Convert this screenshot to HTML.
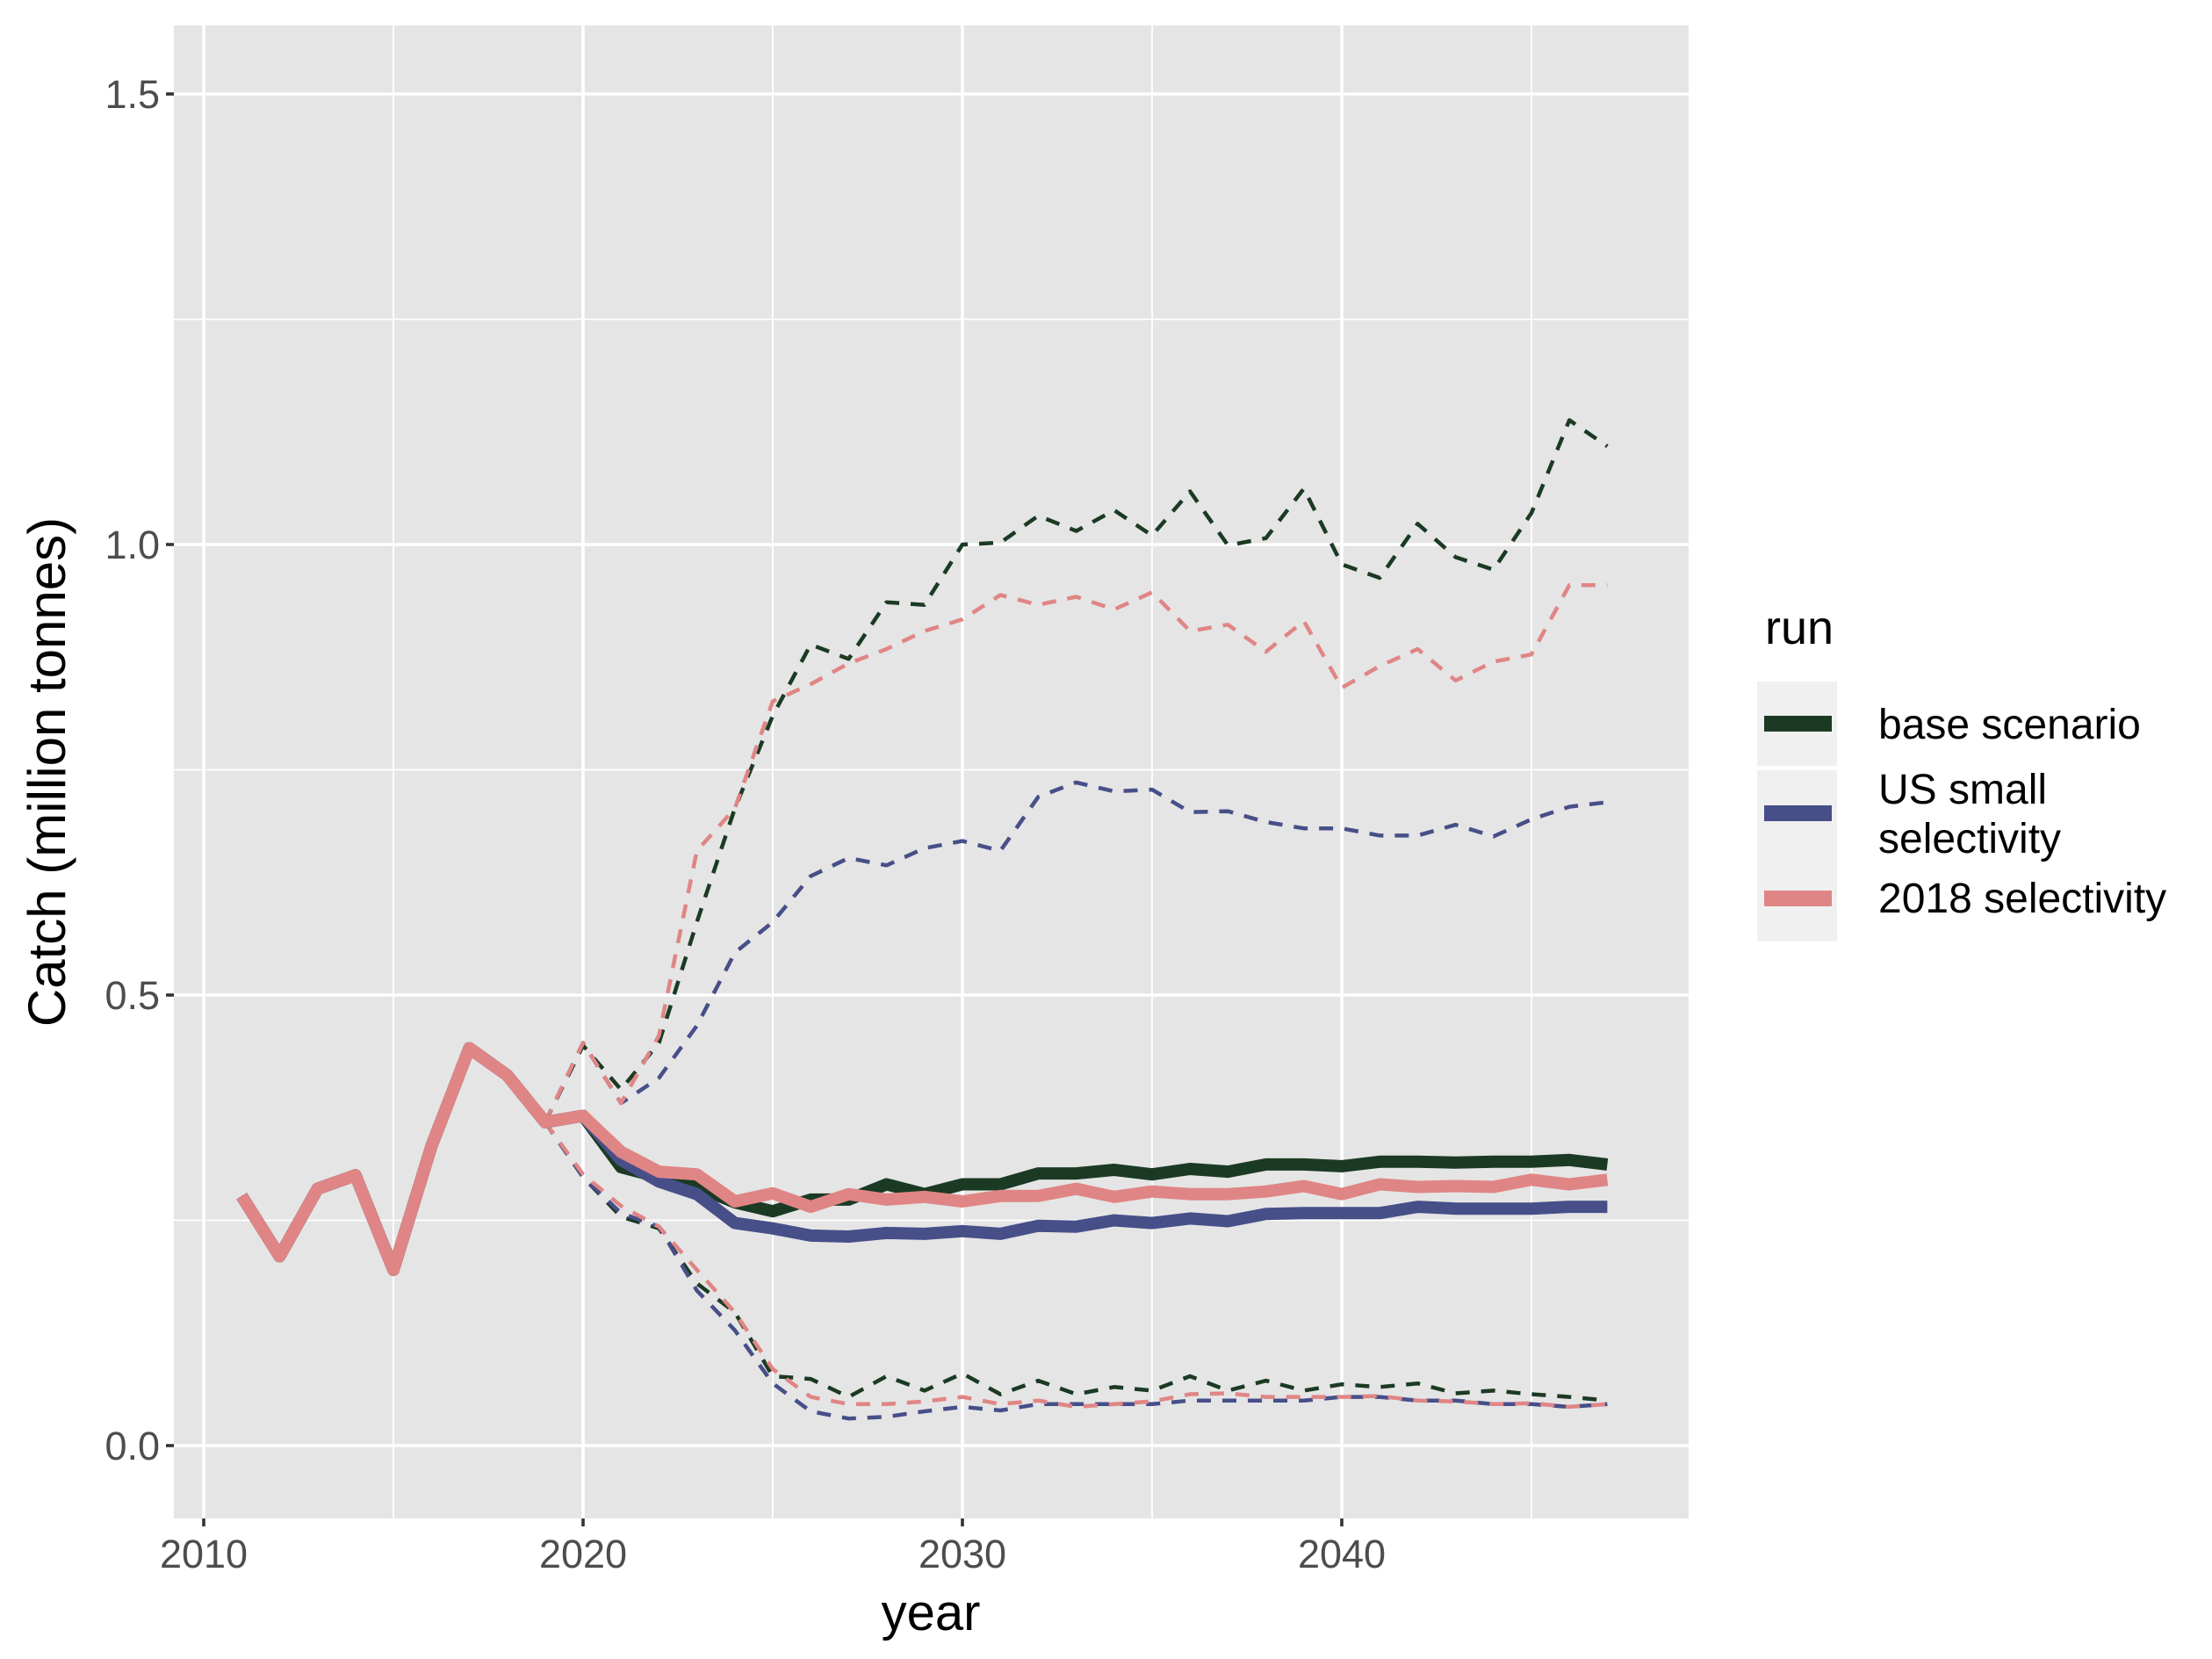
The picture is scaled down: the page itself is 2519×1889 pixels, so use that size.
<!DOCTYPE html>
<html><head><meta charset="utf-8"><style>
html,body{margin:0;padding:0;background:#fff;}
svg{display:block;font-family:"Liberation Sans",Arial,sans-serif;}
</style></head><body>
<svg id="chart" width="2519" height="1889" viewBox="0 0 2519 1889">
<rect x="198" y="29" width="1725" height="1700" fill="#e5e5e5"/>
<g id="grid"></g>
<g id="series"></g>
<g id="axes"></g>
<text x="1060" y="1856" font-size="58" text-anchor="middle" fill="#000">year</text>
<text transform="translate(74,879) rotate(-90)" font-size="60" text-anchor="middle" fill="#000">Catch (million tonnes)</text>
<g>
<text x="2010" y="733" font-size="54" fill="#000">run</text>
<rect x="2001" y="776" width="91" height="96" fill="#f0f0f0"/>
<line x1="2009" y1="824" x2="2086" y2="824" stroke="#1b3a23" stroke-width="18"/>
<text x="2139" y="841" font-size="48" fill="#000">base scenario</text>
<rect x="2001" y="877" width="91" height="99" fill="#f0f0f0"/>
<line x1="2009" y1="926" x2="2086" y2="926" stroke="#474f89" stroke-width="18"/>
<text x="2139" y="915" font-size="48" fill="#000">US small</text>
<text x="2139" y="971" font-size="48" fill="#000">selectivity</text>
<rect x="2001" y="975" width="91" height="97" fill="#f0f0f0"/>
<line x1="2009" y1="1023" x2="2086" y2="1023" stroke="#e08585" stroke-width="18"/>
<text x="2139" y="1039" font-size="48" fill="#000">2018 selectivity</text>
</g>
</svg>
<script>
const NS="http://www.w3.org/2000/svg";
const histYears=[2011,2012,2013,2014,2015,2016,2017,2018,2019,2020];
const histCatch=[0.277,0.21,0.285,0.30,0.195,0.332,0.441,0.411,0.359,0.366];
const projYears=[2021,2022,2023,2024,2025,2026,2027,2028,2029,2030,2031,2032,2033,2034,2035,2036,2037,2038,2039,2040,2041,2042,2043,2044,2045,2046,2047];
const baseMed=[0.309,0.298,0.287,0.27,0.26,0.273,0.273,0.29,0.279,0.29,0.29,0.302,0.302,0.306,0.301,0.307,0.304,0.312,0.312,0.31,0.315,0.315,0.314,0.315,0.315,0.317,0.312];
const usMed=[0.317,0.293,0.279,0.247,0.241,0.233,0.232,0.236,0.235,0.238,0.235,0.244,0.243,0.25,0.247,0.252,0.249,0.257,0.258,0.258,0.258,0.265,0.263,0.263,0.263,0.265,0.265];
const selMed=[0.326,0.304,0.301,0.271,0.28,0.265,0.279,0.273,0.276,0.271,0.277,0.277,0.285,0.276,0.282,0.279,0.279,0.282,0.288,0.279,0.29,0.287,0.288,0.287,0.295,0.29,0.295];
const bandYears=[2019,2020,2021,2022,2023,2024,2025,2026,2027,2028,2029,2030,2031,2032,2033,2034,2035,2036,2037,2038,2039,2040,2041,2042,2043,2044,2045,2046,2047];
const baseHi=[0.359,0.444,0.395,0.447,0.581,0.707,0.81,0.889,0.873,0.936,0.933,1.0,1.002,1.032,1.015,1.038,1.01,1.059,0.999,1.007,1.062,0.978,0.963,1.023,0.986,0.972,1.035,1.138,1.109];
const usHi=[0.359,0.447,0.38,0.408,0.466,0.547,0.581,0.632,0.652,0.644,0.663,0.671,0.66,0.72,0.736,0.726,0.728,0.703,0.704,0.692,0.685,0.685,0.677,0.677,0.689,0.676,0.695,0.709,0.714];
const selHi=[0.359,0.447,0.38,0.455,0.66,0.707,0.826,0.845,0.868,0.884,0.904,0.917,0.944,0.933,0.942,0.928,0.947,0.904,0.911,0.881,0.915,0.841,0.865,0.884,0.849,0.87,0.878,0.955,0.955];
const baseLo=[0.359,0.298,0.254,0.241,0.18,0.148,0.077,0.074,0.054,0.077,0.061,0.08,0.057,0.072,0.057,0.065,0.061,0.077,0.061,0.072,0.061,0.068,0.065,0.069,0.058,0.061,0.057,0.054,0.05];
const usLo=[0.359,0.298,0.258,0.243,0.172,0.128,0.069,0.038,0.03,0.032,0.038,0.043,0.039,0.046,0.046,0.046,0.046,0.05,0.05,0.05,0.05,0.054,0.054,0.05,0.05,0.046,0.046,0.043,0.046];
const selLo=[0.359,0.301,0.266,0.243,0.195,0.148,0.085,0.054,0.046,0.046,0.049,0.054,0.046,0.05,0.043,0.046,0.049,0.057,0.058,0.054,0.054,0.054,0.055,0.05,0.049,0.046,0.047,0.043,0.046];
const xTicks=[2010,2020,2030,2040];
const xMinor=[2015,2025,2035,2045];
const yTicks=[0,0.5,1.0,1.5];
const yTickLabels=["0.0","0.5","1.0","1.5"];
const yMinor=[0.25,0.75,1.25];

const X0=198,X1=1923,Y0=29,Y1=1729;
function xs(v){return 232+(v-2010)*43.2;}
function ys(v){return 1646-v*1026;}

const grid=document.getElementById('grid');
const axes=document.getElementById('axes');
const ser=document.getElementById('series');
function mk(tag,attrs,parent){const e=document.createElementNS(NS,tag);for(const k in attrs)e.setAttribute(k,attrs[k]);parent.appendChild(e);return e;}

yMinor.forEach(v=>{const l=mk('line',{x1:X0,x2:X1,y1:ys(v),y2:ys(v),stroke:'#fff','stroke-width':1.8},grid);

});
xMinor.forEach(v=>{const l=mk('line',{x1:xs(v),x2:xs(v),y1:Y0,y2:Y1,stroke:'#fff','stroke-width':1.8},grid);

});
yTicks.forEach((v,i)=>{const l=mk('line',{x1:X0,x2:X1,y1:ys(v),y2:ys(v),stroke:'#fff','stroke-width':3.6},grid);


const t=mk('line',{x1:X0-9,x2:X0,y1:ys(v),y2:ys(v),stroke:'#333','stroke-width':3.6},axes);


const tx=mk('text',{x:X0-16,y:ys(v)+16,'font-size':45,'text-anchor':'end',fill:'#4d4d4d'},axes);
tx.textContent=yTickLabels[i];

});
xTicks.forEach(v=>{const l=mk('line',{x1:xs(v),x2:xs(v),y1:Y0,y2:Y1,stroke:'#fff','stroke-width':3.6},grid);


const t=mk('line',{x1:xs(v),x2:xs(v),y1:Y1,y2:Y1+9,stroke:'#333','stroke-width':3.6},axes);


const tx=mk('text',{x:xs(v),y:Y1+56,'font-size':45,'text-anchor':'middle',fill:'#4d4d4d'},axes);
tx.textContent=String(v);

});

function pts(yrs,vals){return yrs.map((y,i)=>xs(y).toFixed(1)+','+ys(vals[i]).toFixed(1)).join(' ');}
function line(yrs,vals,color,w,dash,name){
 const p=mk('polyline',{points:pts(yrs,vals),fill:'none',stroke:color,'stroke-width':w,'stroke-linejoin':'round','stroke-linecap':'butt'},ser);
 if(dash)p.setAttribute('stroke-dasharray',dash);
 
 
}
const cB='#1b3a23',cU='#474f89',cS='#e08585';
const DASH='16 13';
line(bandYears,baseHi,cB,4.5,DASH,'base-upper-interval');
line(bandYears,baseLo,cB,4.5,DASH,'base-lower-interval');
line(bandYears,usHi,cU,4.5,DASH,'us-upper-interval');
line(bandYears,usLo,cU,4.5,DASH,'us-lower-interval');
line(bandYears,selHi,cS,4.5,DASH,'sel2018-upper-interval');
line(bandYears,selLo,cS,4.5,DASH,'sel2018-lower-interval');
const hy=histYears, hc=histCatch;
line(hy.concat(projYears),hc.concat(baseMed),cB,14,null,'base-median-line');
line(hy.concat(projYears),hc.concat(usMed),cU,14,null,'us-median-line');
line(hy.concat(projYears),hc.concat(selMed),cS,14,null,'sel2018-median-line');
</script>
</body></html>
